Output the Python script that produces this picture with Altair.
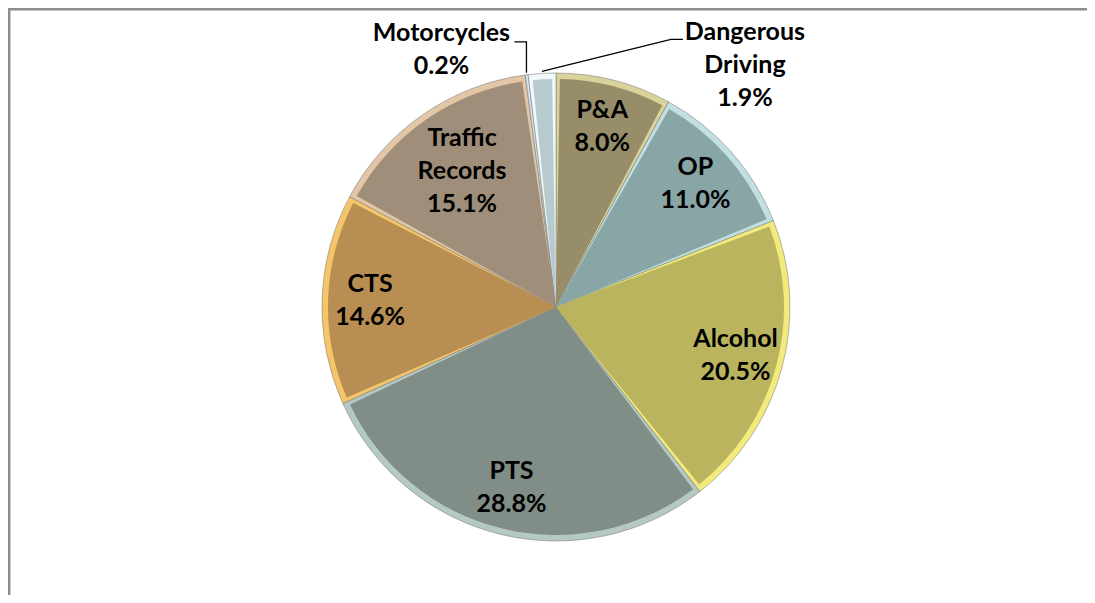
import math
import altair as alt
import pandas as pd

categories = ["P&A", "OP", "Alcohol", "PTS", "CTS", "Traffic Records", "Motorcycles", "Dangerous Driving"]
values = [8.0, 11.0, 20.5, 28.8, 14.6, 15.1, 0.2, 1.9]
label_names = ["P&A", "OP", "Alcohol", "PTS", "CTS", "Traffic\nRecords", "Motorcycles", "Dangerous\nDriving"]
slice_colors = ["#978d69", "#89a6a6", "#bbb45f", "#818d87", "#b88e53", "#9f8e7a", "#ffffff", "#b7cbce"]
edge_colors = ["#d9d29b", "#c2dfe1", "#f2ea7d", "#b5c9c4", "#f5c56a", "#e3c6a6", "#d3e4ea", "#f0f8fa"]

# layout (pixels within the chart)
W, H = 1079, 587
CX, CY = 548, 299
R = 234
LH = 33
LABEL_R = {"Traffic Records": 165}
DEFAULT_LABEL_R = 186
OUTSIDE = {"Motorcycles": (-85, -23), "Dangerous Driving": (203, -6)}
LEADER = {"Motorcycles": [(-12, -31), (0, -31)], "Dangerous Driving": [(141, -32), (129, -32)]}

total = sum(values)
rows, label_rows, leader_rows = [], [], []
cum = 0.0
for i, (c, v, n) in enumerate(zip(categories, values, label_names)):
    mid = (cum + v / 2) / total * 2 * math.pi
    cum += v
    rows.append({"category": c, "value": v, "order": i})
    text = f"{n}\n{v:.1f}%"
    nlines = text.count("\n") + 1
    shift = (nlines - 1) * LH / 2
    if c in OUTSIDE:
        ex = CX + (R + 2) * math.sin(mid)
        ey = CY - (R + 2) * math.cos(mid)
        ox, oy = OUTSIDE[c]
        label_rows.append({"category": c, "text": text, "lx": ex + ox, "ly": ey + oy - shift})
        pts = LEADER[c] + [(0, 0)]
        for k, (px, py) in enumerate(pts):
            leader_rows.append({"category": c, "k": k, "px": ex + px, "py": ey + py})
    else:
        r = LABEL_R.get(c, DEFAULT_LABEL_R)
        label_rows.append({"category": c, "text": text,
                           "lx": CX + r * math.sin(mid), "ly": CY - r * math.cos(mid) - shift})

df = pd.DataFrame(rows)
df_lab = pd.DataFrame(label_rows)
df_lead = pd.DataFrame(leader_rows)

xs = alt.Scale(domain=[0, W], range=[0, W])
ys = alt.Scale(domain=[0, H], range=[0, H])

outer = alt.Chart(df).mark_arc(radius=R, stroke="#6f6f6f", strokeWidth=0.7, strokeOpacity=0.7).encode(
    theta=alt.Theta("value:Q", stack=True),
    order=alt.Order("order:Q"),
    color=alt.Color("category:N", scale=alt.Scale(domain=categories, range=edge_colors), legend=None),
    x=alt.value(CX), y=alt.value(CY),
)
inner = alt.Chart(df).mark_arc(radius=R - 6, padAngle=0.034).encode(
    theta=alt.Theta("value:Q", stack=True),
    order=alt.Order("order:Q"),
    fill=alt.Fill("category:N", scale=alt.Scale(domain=categories, range=slice_colors), legend=None),
    x=alt.value(CX), y=alt.value(CY),
)
labels = alt.Chart(df_lab).mark_text(
    font="Lato", fontSize=25, fontWeight="bold", color="#000000",
    lineBreak="\n", lineHeight=LH, align="center", baseline="middle",
).encode(
    x=alt.X("lx:Q", scale=xs, axis=None),
    y=alt.Y("ly:Q", scale=ys, axis=None),
    text="text:N",
)
leaders = alt.Chart(df_lead).mark_line(color="#000000", strokeWidth=1.3).encode(
    x=alt.X("px:Q", scale=xs, axis=None),
    y=alt.Y("py:Q", scale=ys, axis=None),
    detail="category:N",
    order="k:Q",
)
frame_top = alt.Chart(df.head(1)).mark_rule(color="#8c8c8c", strokeWidth=2.5).encode(
    x=alt.value(0), x2=alt.value(W), y=alt.value(1.2))
frame_left = alt.Chart(df.head(1)).mark_rule(color="#8c8c8c", strokeWidth=2.5).encode(
    x=alt.value(1.2), y=alt.value(0), y2=alt.value(H))

chart = alt.layer(outer, inner, leaders, labels, frame_top, frame_left).resolve_scale(
    color="independent", fill="independent"
).properties(width=W, height=H, padding=0, autosize="none").configure_view(stroke=None)

chart.save("out.html", embed_options={"renderer": "svg", "actions": False})
